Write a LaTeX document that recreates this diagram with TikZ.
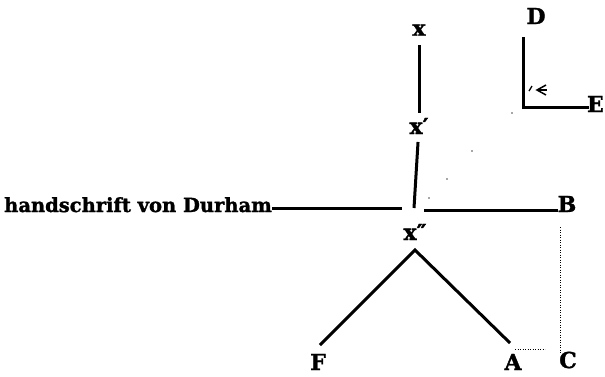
\documentclass[tikz,border=0pt]{standalone}
\usepackage{fontspec}
\setmainfont{DejaVu Serif}
\newfontfamily\heavy[FakeBold=1.5]{DejaVu Serif Bold}
\begin{document}
\begin{tikzpicture}[x=1pt,y=-1pt,
  lab/.style={font=\fontsize{22}{24}\heavy, inner sep=0pt},
  thick line/.style={line width=3pt},
  dotline/.style={line width=0.9pt, dash pattern=on 0.9pt off 1.6pt}]
\useasboundingbox (0,0) rectangle (605,376);
% labels
\node[lab] (X) at (419,30) {x};
\node[lab] (X1) at (419,126) {x′};
\node[lab] (X2) at (415,232) {x″};
\node[lab] (B) at (567,204) {B};
\node[lab] (D) at (536,16) {D};
\node[lab, anchor=east] (E) at (604,104) {E};
\node[lab] (C) at (568,360) {C};
\node[lab] (A) at (513,362) {A};
\node[lab] (F) at (318,362) {F};
\node[lab, font=\fontsize{19.5}{22}\heavy, anchor=base west] (dur) at (4,212) {handschrift von Durham};
% coordinates
\coordinate (J) at (414,208);
\coordinate (JL) at (402,208);
\coordinate (JR) at (424,210);
\coordinate (apex) at (415,250);
\coordinate (fe) at (320,345);
\coordinate (ae) at (510,343);
\coordinate (Dtop) at (523,37);
\coordinate (corner) at (523,107);
\coordinate (Eend) at (589,107);
\coordinate (Ctop) at (560,227);
\coordinate (Cbot) at (560,353);
\coordinate (Al) at (515,349);
\coordinate (Ar) at (545,349);
% connectors
\draw[thick line, shorten <=15pt, shorten >=13pt] (X.center) -- (X1.center);
\draw[thick line, shorten <=16pt] (X1.center) -- (J);
\draw[thick line] (dur.east |- JL) -- (JL);
\draw[thick line] (JR) -- (JR -| B.west);
\draw[thick line] (fe) -- (apex) -- (ae);
\draw[thick line] (Dtop) -- (corner) -- (Eend);
\draw[dotline] (Ctop) -- (Cbot);
\draw[dotline] (Al) -- (Ar);
% small mark near the corner
\draw[line width=1.3pt] (529,91) -- (532,86);
\draw[line width=1.5pt] (546,85) -- (537,90) -- (546,95);
\draw[line width=1.5pt] (539,90) -- (547,90);
% faint dots
\foreach \p in {(429,198),(447,179),(472,151),(512,113)}
  \fill[black!70] \p circle (0.8pt);
\end{tikzpicture}
\end{document}
